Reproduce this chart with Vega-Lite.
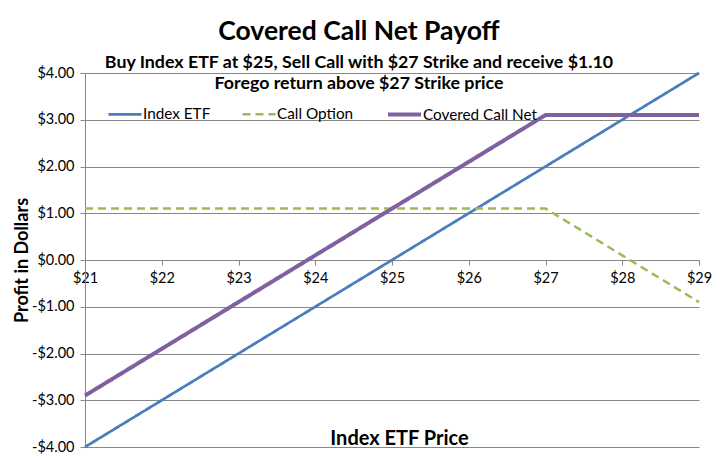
{
  "$schema": "https://vega.github.io/schema/vega-lite/v6.json",
  "width": 614,
  "height": 374,
  "autosize": {"type": "none"},
  "padding": {"left": 85, "top": 73, "right": 21, "bottom": 11},
  "background": "white",
  "title": {
    "text": "Covered Call Net Payoff",
    "subtitle": ["Buy Index ETF at $25, Sell Call with $27 Strike and receive $1.10", "Forego return above $27 Strike price"],
    "anchor": "middle",
    "dx": -33,
    "offset": -28,
    "font": "Lato",
    "fontSize": 26.5,
    "fontWeight": "bold",
    "color": "black",
    "subtitleFont": "Lato",
    "subtitleFontSize": 17.8,
    "subtitleFontWeight": "bold",
    "subtitleColor": "black",
    "subtitleLineHeight": 21,
    "subtitlePadding": 9
  },
  "config": {
    "view": {"stroke": null},
    "axis": {
      "labelFont": "Lato",
      "titleFont": "Lato",
      "labelColor": "black",
      "titleColor": "black",
      "gridColor": "#878787",
      "domainColor": "#878787",
      "tickColor": "#878787",
      "labelFontSize": 14.5
    }
  },
  "data": {
    "values": [
      {"price": 21, "series": "Index ETF", "profit": -4},
      {"price": 22, "series": "Index ETF", "profit": -3},
      {"price": 23, "series": "Index ETF", "profit": -2},
      {"price": 24, "series": "Index ETF", "profit": -1},
      {"price": 25, "series": "Index ETF", "profit": 0},
      {"price": 26, "series": "Index ETF", "profit": 1},
      {"price": 27, "series": "Index ETF", "profit": 2},
      {"price": 28, "series": "Index ETF", "profit": 3},
      {"price": 29, "series": "Index ETF", "profit": 4},
      {"price": 21, "series": "Call Option", "profit": 1.1},
      {"price": 22, "series": "Call Option", "profit": 1.1},
      {"price": 23, "series": "Call Option", "profit": 1.1},
      {"price": 24, "series": "Call Option", "profit": 1.1},
      {"price": 25, "series": "Call Option", "profit": 1.1},
      {"price": 26, "series": "Call Option", "profit": 1.1},
      {"price": 27, "series": "Call Option", "profit": 1.1},
      {"price": 28, "series": "Call Option", "profit": 0.1},
      {"price": 29, "series": "Call Option", "profit": -0.9},
      {"price": 21, "series": "Covered Call Net", "profit": -2.9},
      {"price": 22, "series": "Covered Call Net", "profit": -1.9},
      {"price": 23, "series": "Covered Call Net", "profit": -0.9},
      {"price": 24, "series": "Covered Call Net", "profit": 0.1},
      {"price": 25, "series": "Covered Call Net", "profit": 1.1},
      {"price": 26, "series": "Covered Call Net", "profit": 2.1},
      {"price": 27, "series": "Covered Call Net", "profit": 3.1},
      {"price": 28, "series": "Covered Call Net", "profit": 3.1},
      {"price": 29, "series": "Covered Call Net", "profit": 3.1}
    ]
  },
  "mark": {"type": "line", "clip": false},
  "encoding": {
    "x": {
      "field": "price",
      "type": "quantitative",
      "scale": {"domain": [21, 29], "nice": false, "zero": false},
      "axis": {
        "grid": false,
        "values": [21, 22, 23, 24, 25, 26, 27, 28, 29],
        "labelExpr": "'$' + datum.value",
        "offset": -187,
        "tickSize": 5,
        "labelPadding": 6,
        "labelFlush": false,
        "labelOverlap": false,
        "title": "Index ETF Price",
        "titleFontSize": 20,
        "titleFontWeight": "bold",
        "titleY": 184,
        "titleX": 314,
        "titleBaseline": "alphabetic"
      }
    },
    "y": {
      "field": "profit",
      "type": "quantitative",
      "scale": {"domain": [-4, 4], "nice": false},
      "axis": {
        "grid": true,
        "values": [-4, -3, -2, -1, 0, 1, 2, 3, 4],
        "labelExpr": "datum.value < 0 ? '-$' + format(-datum.value, '.2f') : '$' + format(datum.value, '.2f')",
        "tickSize": 5,
        "labelPadding": 6,
        "title": "Profit in Dollars",
        "titleFontSize": 18,
        "titleFontWeight": "bold",
        "titlePadding": 0
      }
    },
    "color": {
      "field": "series",
      "type": "nominal",
      "scale": {"domain": ["Index ETF", "Call Option", "Covered Call Net"], "range": ["#4A7EBB", "#9BBB59", "#7F60A0"]},
      "legend": {
        "orient": "none",
        "legendX": 22,
        "legendY": 23,
        "direction": "horizontal",
        "title": null,
        "labelFont": "Lato",
        "labelFontSize": 15.3,
        "labelColor": "black",
        "symbolType": "stroke",
        "symbolSize": 1089,
        "labelOffset": 0,
        "columnPadding": 26
      }
    },
    "strokeDash": {
      "field": "series",
      "type": "nominal",
      "scale": {"domain": ["Index ETF", "Call Option", "Covered Call Net"], "range": [[1, 0], [8, 5], [1, 0]]}
    },
    "strokeWidth": {
      "field": "series",
      "type": "nominal",
      "scale": {"type": "ordinal", "domain": ["Index ETF", "Call Option", "Covered Call Net"], "range": [2.75, 2.5, 4]}
    }
  }
}
